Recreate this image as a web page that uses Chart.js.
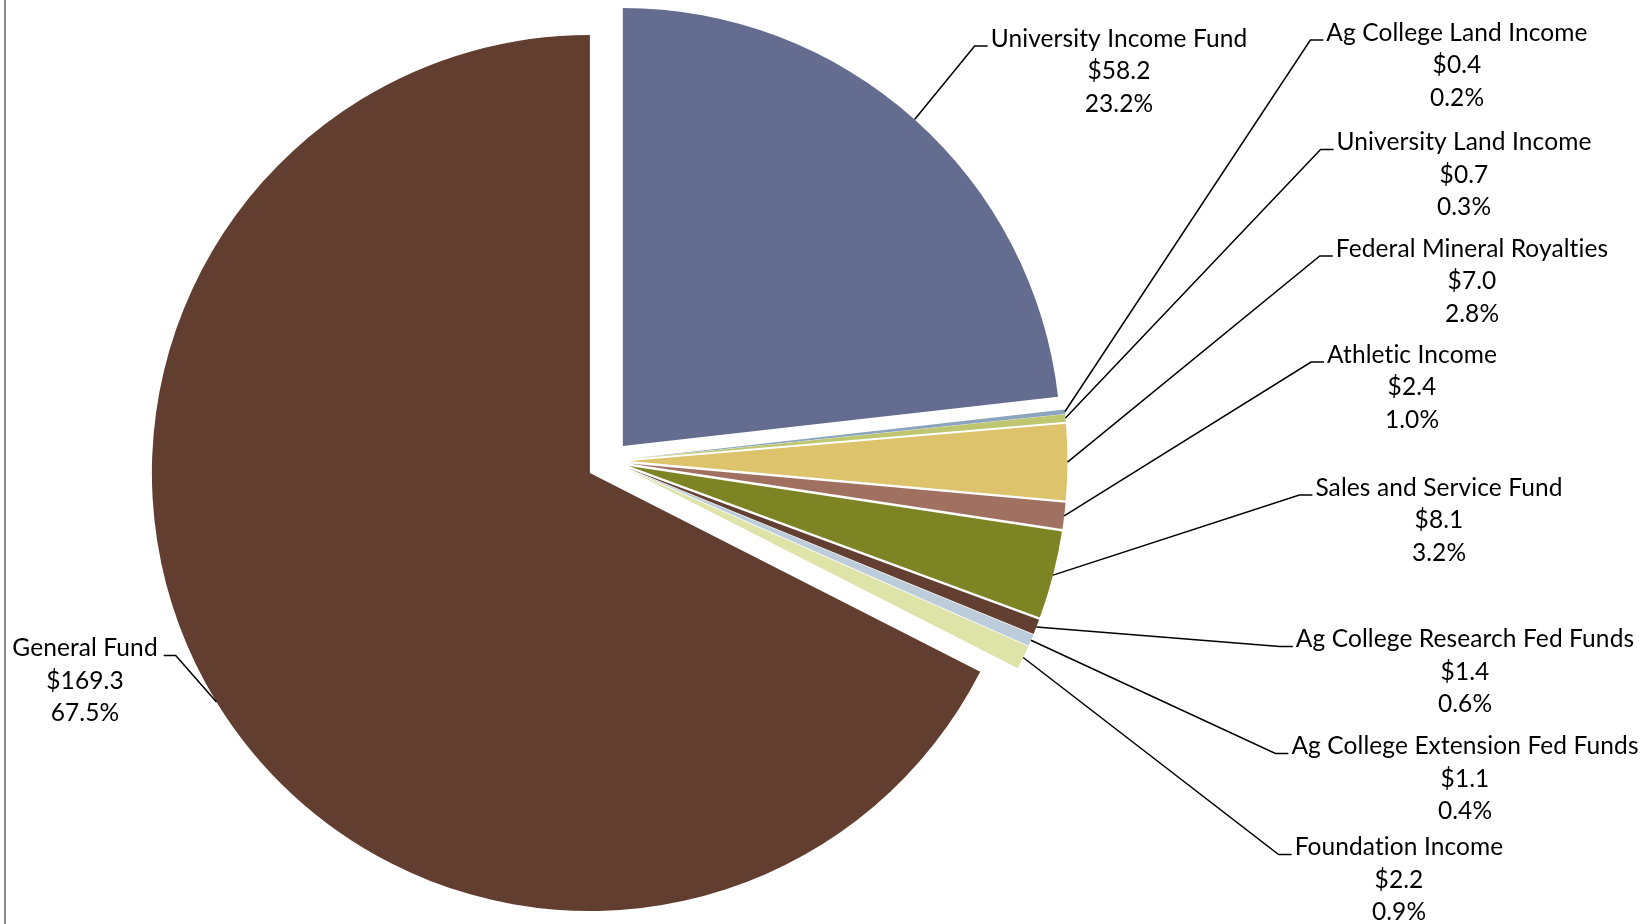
<!DOCTYPE html>
<html>
<head>
<meta charset="utf-8">
<script src="https://cdn.jsdelivr.net/npm/chart.js@4.4.1/dist/chart.umd.min.js"></script>
<style>
html,body{margin:0;padding:0;background:#ffffff;}
#wrap{width:1640px;height:924px;position:relative;}
</style>
</head>
<body>
<div id="wrap"><canvas id="c" width="1640" height="924"></canvas></div>
<script>
// ---- data ----
const categories = [
  'University Income Fund',
  'Ag College Land Income',
  'University Land Income',
  'Federal Mineral Royalties',
  'Athletic Income',
  'Sales and Service Fund',
  'Ag College Research Fed Funds',
  'Ag College Extension Fed Funds',
  'Foundation Income',
  'General Fund'
];
const amounts = [58.2, 0.4, 0.7, 7.0, 2.4, 8.1, 1.4, 1.1, 2.2, 169.3];

// ---- styles / layout ----
const sliceColors = ['#646C8F','#8AA5BD','#BEC670','#DDC36C','#A07161','#7C8424','#633F32','#BCCCDA','#DEE3A7','#623E31'];
const explodeOffsets = [20, 20, 20, 20, 20, 20, 20, 20, 20, 23];
// label block anchor: centre x, first line centre y, side of the pie
const labelAnchors = [
  [1119, 39, 'r'],
  [1457, 33, 'r'],
  [1464, 142.5, 'r'],
  [1472, 249, 'r'],
  [1412, 355, 'r'],
  [1439, 488, 'r'],
  [1465, 639.5, 'r'],
  [1465, 746.5, 'r'],
  [1399, 847.5, 'r'],
  [85, 648.5, 'l']
];
const LABEL_FONT = '24.5px Lato';
const LINE_GAP = 32.5;

const total = amounts.reduce((a, b) => a + b, 0);

const explodePlugin = {
  id: 'explode',
  afterDatasetUpdate(chart, args) {
    const meta = chart.getDatasetMeta(args.index);
    meta.data.forEach((arc, i) => {
      const mid = (arc.startAngle + arc.endAngle) / 2;
      const off = explodeOffsets[i] || 0;
      arc.x += Math.cos(mid) * off;
      arc.y += Math.sin(mid) * off;
    });
  }
};

const frameLine = {
  id: 'frameLine',
  beforeDraw(chart) {
    const ctx = chart.ctx;
    ctx.save();
    ctx.fillStyle = '#8a8a8a';
    ctx.fillRect(4, 0, 2, chart.height);
    ctx.restore();
  }
};

const labelPlugin = {
  id: 'pieLabels',
  afterDraw(chart) {
    const ctx = chart.ctx;
    const meta = chart.getDatasetMeta(0);
    ctx.save();
    ctx.font = LABEL_FONT;
    if ('letterSpacing' in ctx) ctx.letterSpacing = '0.1px';
    ctx.fillStyle = '#000';
    ctx.strokeStyle = '#000';
    ctx.lineWidth = 1.5;
    ctx.textAlign = 'center';
    ctx.textBaseline = 'middle';
    meta.data.forEach((arc, i) => {
      const [cx, cy, side] = labelAnchors[i];
      const lines = [
        categories[i],
        '$' + amounts[i].toFixed(1),
        (amounts[i] / total * 100).toFixed(1) + '%'
      ];
      lines.forEach((t, k) => ctx.fillText(t, cx, cy + k * LINE_GAP));
      const w = ctx.measureText(lines[0]).width;
      const mid = (arc.startAngle + arc.endAngle) / 2;
      const px = arc.x + Math.cos(mid) * arc.outerRadius;
      const py = arc.y + Math.sin(mid) * arc.outerRadius;
      const sy = cy + 7;
      let s1, s2;
      if (side === 'r') {
        s1 = cx - w / 2 - 3;
        s2 = s1 - 13;
      } else {
        s1 = cx + w / 2 + 6;
        s2 = s1 + 12;
      }
      ctx.beginPath();
      ctx.moveTo(s1, sy);
      ctx.lineTo(s2, sy);
      ctx.lineTo(px, py);
      ctx.stroke();
    });
    ctx.restore();
  }
};

new Chart(document.getElementById('c'), {
  type: 'pie',
  data: {
    labels: categories,
    datasets: [{
      data: amounts,
      backgroundColor: sliceColors,
      borderColor: '#ffffff',
      borderWidth: 0
    }]
  },
  options: {
    responsive: false,
    animation: false,
    devicePixelRatio: 1,
    radius: 438,
    layout: { padding: { left: 0, right: 421, top: 0, bottom: 2 } },
    plugins: {
      legend: { display: false },
      tooltip: { enabled: false }
    },
    events: []
  },
  plugins: [frameLine, explodePlugin, labelPlugin]
});
</script>
</body>
</html>
